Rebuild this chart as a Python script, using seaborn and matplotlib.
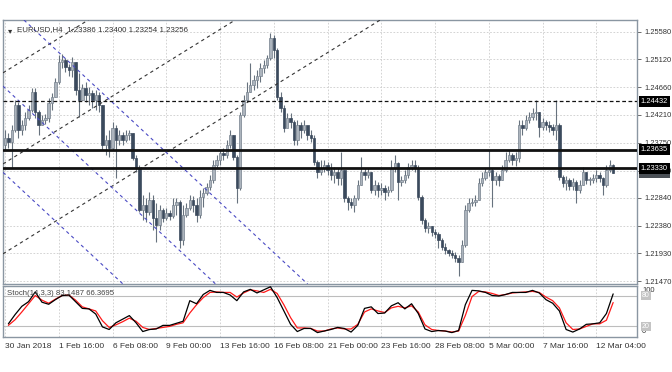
import numpy as np
import matplotlib
matplotlib.use("Agg")
import matplotlib.pyplot as plt
import matplotlib.transforms as mtrans
import seaborn as sns

# ---------------- data ----------------
first_open = 1.2371
close = [
    1.2383, 1.2376, 1.2396, 1.2437, 1.2396, 1.2404, 1.2416, 1.2429, 1.2458, 1.2425,
    1.2404, 1.2412, 1.2416, 1.2440, 1.2450, 1.2475, 1.2508, 1.2511, 1.2500, 1.2495,
    1.2508, 1.2462, 1.2445, 1.2465, 1.2453, 1.2457, 1.2445, 1.2453, 1.2437, 1.2371,
    1.2379, 1.2366, 1.2399, 1.2379, 1.2388, 1.2379, 1.2388, 1.2391, 1.2350, 1.2333,
    1.2264, 1.2272, 1.2261, 1.2281, 1.2251, 1.2239, 1.2264, 1.2251, 1.2259, 1.2254,
    1.2272, 1.2277, 1.2215, 1.2256, 1.2267, 1.2281, 1.2272, 1.2256, 1.2285, 1.2292,
    1.2302, 1.2314, 1.2338, 1.2346, 1.2358, 1.2355, 1.2371, 1.2388, 1.2351, 1.2300,
    1.2420, 1.2445, 1.2458, 1.2470, 1.2478, 1.2485, 1.2498, 1.2503, 1.2514, 1.2547,
    1.2528, 1.2450, 1.2432, 1.2399, 1.2416, 1.2409, 1.2379, 1.2404, 1.2396, 1.2404,
    1.2388, 1.2383, 1.2343, 1.2327, 1.2333, 1.2338, 1.2330, 1.2322, 1.2327, 1.2317,
    1.2330, 1.2284, 1.2277, 1.2272, 1.2284, 1.2305, 1.2327, 1.2322, 1.2327, 1.2297,
    1.2305, 1.2297, 1.2300, 1.2294, 1.2297, 1.2333, 1.2341, 1.2310, 1.2314, 1.2322,
    1.2335, 1.2338, 1.2333, 1.2285, 1.2248, 1.2234, 1.2238, 1.2228, 1.2225, 1.2215,
    1.2203, 1.2198, 1.2193, 1.2190, 1.2185, 1.2178, 1.2206, 1.2264, 1.2276, 1.2277,
    1.2281, 1.2309, 1.2317, 1.2327, 1.2330, 1.2314, 1.2320, 1.2314, 1.2330, 1.2346,
    1.2355, 1.2346, 1.2350, 1.2404, 1.2399, 1.2412, 1.2417, 1.2424, 1.2425, 1.2401,
    1.2409, 1.2404, 1.2401, 1.2396, 1.2404, 1.2318, 1.2309, 1.2314, 1.2304, 1.2310,
    1.2297, 1.2305, 1.2327, 1.2314, 1.2314, 1.2317, 1.2322, 1.2317, 1.2305, 1.2330,
    1.23386, 1.23256,
]
high = [
    1.2396, 1.2391, 1.2404, 1.2445, 1.2442, 1.2412, 1.2425, 1.2437, 1.2465, 1.2465,
    1.2429, 1.2420, 1.2422, 1.2448, 1.2457, 1.2481, 1.2519, 1.2521, 1.2514, 1.2504,
    1.2516, 1.2508, 1.2490, 1.2472, 1.2475, 1.2467, 1.2462, 1.2462, 1.2458, 1.2437,
    1.2388, 1.2396, 1.2409, 1.2404, 1.2396, 1.2393, 1.2396, 1.2396, 1.2391, 1.2355,
    1.2338, 1.2289, 1.2284, 1.2294, 1.2289, 1.2276, 1.2272, 1.2267, 1.2267, 1.2264,
    1.2284, 1.2284, 1.2281, 1.2272, 1.2276, 1.2289, 1.2287, 1.2284, 1.2297, 1.2300,
    1.2309, 1.2322, 1.2346, 1.2355, 1.2363, 1.2366, 1.2379, 1.2396, 1.2388, 1.2355,
    1.2425, 1.2453, 1.2475, 1.2506, 1.2486, 1.2495, 1.2506, 1.2511, 1.2519, 1.2556,
    1.2552, 1.2531, 1.2458, 1.2437, 1.2424, 1.2424, 1.2412, 1.2412, 1.2409, 1.2412,
    1.2399, 1.2396, 1.2388, 1.2346, 1.2346, 1.2346, 1.2343, 1.2341, 1.2335, 1.2333,
    1.2360, 1.2330, 1.2287, 1.2284, 1.2289, 1.2314, 1.2351, 1.2333, 1.2333, 1.2327,
    1.2314, 1.2310, 1.2309, 1.2305, 1.2304, 1.2346, 1.2355, 1.2343, 1.2320, 1.2330,
    1.2341, 1.2346, 1.2346, 1.2338, 1.2289, 1.2251, 1.2244, 1.2238, 1.2233, 1.2228,
    1.2218, 1.2210, 1.2200, 1.2198, 1.2195, 1.2190, 1.2215, 1.2272, 1.2284, 1.2284,
    1.2289, 1.2317, 1.2327, 1.2333, 1.2363, 1.2333, 1.2327, 1.2323, 1.2338, 1.2360,
    1.2363, 1.2358, 1.2360, 1.2412, 1.2412, 1.2420, 1.2425, 1.2432, 1.2445, 1.2425,
    1.2416, 1.2412, 1.2411, 1.2406, 1.2445, 1.2407, 1.2322, 1.2320, 1.2317, 1.2317,
    1.2314, 1.2314, 1.2335, 1.2327, 1.2318, 1.2323, 1.2330, 1.2327, 1.2318, 1.2338,
    1.2346, 1.23400,
]
low = [
    1.2363, 1.2366, 1.2333, 1.2393, 1.2383, 1.2388, 1.2396, 1.2412, 1.2425, 1.2416,
    1.2388, 1.2404, 1.2406, 1.2409, 1.2429, 1.2450, 1.2472, 1.2498, 1.2491, 1.2485,
    1.2483, 1.2453, 1.2417, 1.2445, 1.2442, 1.2437, 1.2432, 1.2429, 1.2425, 1.2363,
    1.2355, 1.2351, 1.2363, 1.2317, 1.2371, 1.2371, 1.2376, 1.2379, 1.2346, 1.2327,
    1.2261, 1.2248, 1.2244, 1.2256, 1.2231, 1.2211, 1.2231, 1.2244, 1.2248, 1.2248,
    1.2251, 1.2256, 1.2201, 1.2206, 1.2253, 1.2264, 1.2261, 1.2244, 1.2251, 1.2269,
    1.2289, 1.2297, 1.2309, 1.2333, 1.2338, 1.2346, 1.2350, 1.2366, 1.2346, 1.2276,
    1.2297, 1.2417, 1.2442, 1.2458, 1.2462, 1.2465, 1.2475, 1.2490, 1.2498, 1.2511,
    1.2514, 1.2445, 1.2425, 1.2393, 1.2404, 1.2399, 1.2371, 1.2371, 1.2383, 1.2391,
    1.2379, 1.2376, 1.2338, 1.2317, 1.2322, 1.2327, 1.2322, 1.2314, 1.2309, 1.2305,
    1.2305, 1.2277, 1.2264, 1.2267, 1.2261, 1.2281, 1.2305, 1.2314, 1.2317, 1.2292,
    1.2289, 1.2285, 1.2289, 1.2281, 1.2287, 1.2294, 1.2327, 1.2281, 1.2304, 1.2309,
    1.2317, 1.2330, 1.2327, 1.2281, 1.2241, 1.2228, 1.2226, 1.2221, 1.2218, 1.2201,
    1.2198, 1.2192, 1.2188, 1.2185, 1.2178, 1.2156, 1.2178, 1.2203, 1.2261, 1.2271,
    1.2271, 1.2281, 1.2304, 1.2314, 1.2320, 1.2269, 1.2305, 1.2304, 1.2314, 1.2327,
    1.2343, 1.2338, 1.2337, 1.2343, 1.2388, 1.2396, 1.2407, 1.2412, 1.2412, 1.2384,
    1.2396, 1.2396, 1.2393, 1.2388, 1.2379, 1.2314, 1.2302, 1.2297, 1.2297, 1.2297,
    1.2276, 1.2292, 1.2305, 1.2307, 1.2305, 1.2309, 1.2310, 1.2310, 1.2289, 1.2302,
    1.2327, 1.23254,
]

# Stochastic (14,3,3) read at every second bar (bars 1, 3, ..., 181)
stoch_k = [
    25, 43, 59, 68, 87, 67, 63, 72, 80, 81,
    68, 55, 54, 44, 19, 14, 27, 34, 41, 27,
    10, 14, 15, 22, 22, 26, 30, 70, 64, 82,
    90, 86, 86, 81, 70, 87, 92, 85, 91, 97,
    76, 50, 24, 10, 16, 16, 8, 11, 14, 18,
    16, 9, 22, 55, 58, 45, 46, 60, 66, 54,
    64, 45, 15, 10, 12, 11, 8, 12, 62, 90,
    89, 86, 80, 79, 82, 86, 86, 86, 90, 85,
    72, 65, 50, 14, 9, 15, 24, 25, 27, 45,
    83.1487,
]
stoch_d = [
    22, 33, 48, 64, 80, 71, 65, 73, 80, 81,
    71, 58, 54, 50, 31, 18, 23, 29, 36, 30,
    18, 14, 16, 18, 20, 24, 27, 46, 62, 76,
    86, 87, 86, 86, 77, 85, 91, 89, 86, 92,
    84, 62, 37, 17, 17, 16, 11, 11, 15, 17,
    15, 15, 24, 48, 54, 50, 47, 56, 59, 56,
    60, 48, 23, 14, 12, 11, 9, 11, 41, 78,
    88, 87, 84, 80, 82, 85, 86, 87, 88, 86,
    77, 70, 56, 27, 14, 15, 20, 25, 25, 32,
    66.3695,
]

date_labels = ["30 Jan 2018", "1 Feb 16:00", "6 Feb 08:00", "9 Feb 00:00",
               "13 Feb 16:00", "16 Feb 08:00", "21 Feb 00:00", "23 Feb 16:00",
               "28 Feb 08:00", "5 Mar 00:00", "7 Mar 16:00", "12 Mar 04:00"]
date_label_bars = [0, 16, 32, 48, 64, 80, 96, 112, 128, 144, 160, 176]
price_ticks = [1.25580, 1.25120, 1.24660, 1.24210, 1.23750, 1.23290,
               1.22840, 1.22380, 1.21930, 1.21470]

dashed_level = 1.24432
solid_levels = [1.23635, 1.23330]
last_price = 1.23256
symbol_text = "EURUSD,H4  1.23386 1.23400 1.23254 1.23256"
stoch_title = "Stoch(14,3,3) 83.1487 66.3695"

# channels: each line given by two (bar, price) points
black_channel = [((0, 1.2492), (100, 1.2835)),
                 ((0, 1.2342), (100, 1.2685)),
                 ((0, 1.2194), (100, 1.2537))]
blue_channel = [((0, 1.2606), (100, 1.2091)),
                ((0, 1.2465), (100, 1.1950)),
                ((0, 1.2323), (100, 1.1808))]

# ---------------- drawing ----------------
sns.set_style("white")
plt.rcParams["font.family"] = ["Liberation Sans", "DejaVu Sans"]

W, H = 672, 372
fig = plt.figure(figsize=(W / 100, H / 100), dpi=100)
fig.patch.set_facecolor("white")

ax = fig.add_axes([3 / W, 1 - 284 / H, 634 / W, 264 / H])
ax2 = fig.add_axes([3 / W, 1 - 337 / H, 634 / W, 51 / H])

n = len(close)
x = np.arange(n)
c = np.array(close)
o = np.array([first_open] + close[:-1])
hi = np.array(high)
lo = np.array(low)

xlim = (-0.6, 188.1)
ax.set_xlim(*xlim)
ax.set_ylim(1.21422, 1.25770)
ax2.set_xlim(*xlim)
ax2.set_ylim(-0.6, 98.5)

grid_kw = dict(color="#cccccc", lw=0.6, ls=(0, (2, 2)), zorder=0)
for p in price_ticks:
    ax.axhline(p, **grid_kw)
for b in date_label_bars:
    ax.axvline(b, **grid_kw)
    ax2.axvline(b, **grid_kw)

# candles
bull = c >= o
wick_col = "#67727e"
ax.vlines(x, lo, hi, color=wick_col, lw=0.8, zorder=2)
body_h = np.where(np.abs(c - o) < 0.00004, 0.00004, c - o)
ax.bar(x[bull], body_h[bull], bottom=o[bull], width=0.72,
       color="#acb4bd", edgecolor="#76818d", lw=0.5, zorder=3)
ax.bar(x[~bull], body_h[~bull], bottom=o[~bull], width=0.72,
       color="#3b4a5d", edgecolor="#3b4a5d", lw=0.5, zorder=3)

# channels
for p1, p2 in black_channel:
    ax.axline(p1, p2, color="#333333", lw=0.8, ls=(0, (3, 3)), zorder=4)
for p1, p2 in blue_channel:
    ax.axline(p1, p2, color="#4a4ac4", lw=0.8, ls=(0, (3, 3)), zorder=4)

# horizontal levels
ax.axhline(dashed_level, color="#111111", lw=0.9, ls=(0, (3, 2)), zorder=5)
for lv in solid_levels:
    ax.axhline(lv, color="#111111", lw=2.0, zorder=5)

# price axis
ax.set_xticks([])
ax.yaxis.tick_right()
ax.set_yticks(price_ticks)
ax.set_yticklabels([f"{p:.5f}" for p in price_ticks])
ax.tick_params(axis="y", length=3, width=0.6, color="#555555", pad=2,
               labelsize=5.4, labelcolor="#333333")

tr = mtrans.blended_transform_factory(ax.transAxes, ax.transData)
box_kw = dict(transform=tr, ha="left", va="center", fontsize=5.4,
              clip_on=False, zorder=10)
ax.text(1.006, last_price, f"{last_price:.5f}", color="#dddddd",
        bbox=dict(boxstyle="square,pad=0.25", fc="#4a4f55", ec="none"), **box_kw)
for lv in (solid_levels[0], solid_levels[1], dashed_level):
    ax.text(1.006, lv, f"{lv:.5f}", color="white",
            bbox=dict(boxstyle="square,pad=0.25", fc="black", ec="none"), **box_kw)

ax.text(5 / 634, 0.976, "\u25BE", transform=ax.transAxes, ha="left", va="top",
        fontsize=6.0, color="#333333", zorder=10, family=["DejaVu Sans"])
ax.text(14 / 634, 0.978, symbol_text, transform=ax.transAxes,
        ha="left", va="top", fontsize=5.7, color="#333333", zorder=10)

# stochastic panel
ax2.axhline(80, color="#bdbdbd", lw=0.8, zorder=1)
ax2.axhline(20, color="#bdbdbd", lw=0.8, zorder=1)
xs = np.arange(1, n, 2)
sns.lineplot(x=xs, y=stoch_k, ax=ax2, color="black", lw=0.9, zorder=3)
sns.lineplot(x=xs, y=stoch_d, ax=ax2, color="#ff1a1a", lw=0.9, zorder=2)
ax2.set_ylabel("")
ax2.set_yticks([])
ax2.text(0.007, 0.93, stoch_title, transform=ax2.transAxes, ha="left",
         va="top", fontsize=5.6, color="#444444")

tr2 = mtrans.blended_transform_factory(ax2.transAxes, ax2.transData)
ax2.text(1.008, 90, "100", transform=tr2, ha="left", va="center",
         fontsize=5.4, color="#333333", clip_on=False)
ax2.text(1.008, 10, "0", transform=tr2, ha="left", va="center",
         fontsize=5.4, color="#333333", clip_on=False)
for lv in (80, 20):
    ax2.text(1.008, lv, str(lv), transform=tr2, ha="left", va="center",
             fontsize=5.0, color="white", clip_on=False,
             bbox=dict(boxstyle="square,pad=0.12", fc="#c4c4c4", ec="none"))

ax2.set_xticks(date_label_bars)
ax2.set_xticklabels(date_labels)
for lab in ax2.get_xticklabels():
    lab.set_horizontalalignment("left")
ax2.tick_params(axis="x", length=3, width=0.6, color="#555555", pad=1.5,
                labelsize=6.0, labelcolor="#333333")

for a in (ax, ax2):
    for s in a.spines.values():
        s.set_color("#8a96a2")
        s.set_linewidth(1.0)
    a.set_facecolor("white")

fig.savefig("out.png", dpi=100, facecolor="white")
